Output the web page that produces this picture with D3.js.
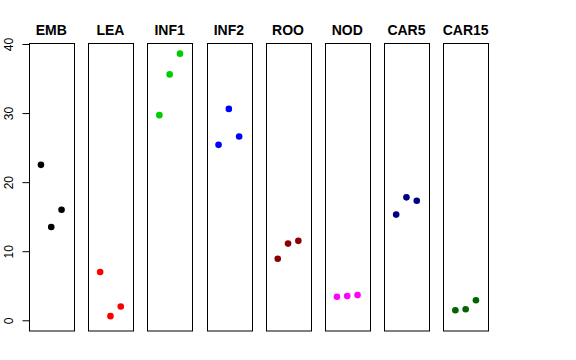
<!DOCTYPE html>
<html><head><meta charset="utf-8">
<script src="https://cdn.jsdelivr.net/npm/d3@7"></script>
<style>body{margin:0;background:#fff}svg{display:block}</style>
</head><body>
<svg id="c" width="576" height="360"></svg>
<script>
const categories = ["EMB","LEA","INF1","INF2","ROO","NOD","CAR5","CAR15"];
const colors = ["#000000","#FF0000","#00CD00","#0000FF","#8B0000","#FF00FF","#000080","#006400"];
const rep1 = [22.5, 7.0, 29.7, 25.4, 8.9, 3.4, 15.3, 1.45];
const rep2 = [13.5, 0.6, 35.6, 30.6, 11.1, 3.5, 17.8, 1.6];
const rep3 = [16.0, 2.0, 38.6, 26.6, 11.5, 3.65, 17.3, 2.9];
const yTicks = [0, 10, 20, 30, 40];

const svg = d3.select("#c");
const panelX = d3.scaleBand().domain(categories)
  .range([29, 29 + 59.2 * 8 - 14.7]).paddingInner(14.7/59.2).paddingOuter(0).align(0);
const y = d3.scaleLinear().domain([-1.55, 40.1]).range([331, 43.3]);

categories.forEach((cat, i) => {
  const x0 = panelX(cat), w = panelX.bandwidth();
  const x = d3.scaleLinear().domain([-0.16, 4.16]).range([x0, x0 + w]);
  const g = svg.append("g");
  g.append("rect").attr("x", Math.round(x0) + 0.5).attr("y", 43.5)
    .attr("width", Math.round(w)).attr("height", 287.5)
    .attr("fill", "none").attr("stroke", "#000").attr("stroke-width", 1);
  const vals = [rep1[i], rep2[i], rep3[i]];
  g.selectAll("circle").data(vals).enter().append("circle")
    .attr("cx", (d, j) => x(j + 1)).attr("cy", d => y(d))
    .attr("r", 3.3).attr("fill", colors[i]);
  g.append("text").attr("x", x0 + w / 2).attr("y", 35)
    .attr("text-anchor", "middle").attr("font-family", "Liberation Sans, Arial, sans-serif")
    .attr("font-weight", "bold").attr("font-size", 14).text(cat);
});

const axis = d3.axisLeft(y).tickValues(yTicks).tickSize(7).tickPadding(5).tickFormat(d3.format("d"));
const ag = svg.append("g").attr("transform", "translate(29.5,0)").call(axis);
ag.select(".domain").attr("d", `M0,${y(0)}V${y(40)}`).attr("stroke", "#000");
ag.selectAll(".tick line").attr("stroke", "#000");
ag.selectAll(".tick text")
  .attr("font-family", "Liberation Sans, Arial, sans-serif").attr("font-size", 12)
  .attr("fill", "#000")
  .attr("transform", "rotate(-90)")
  .attr("dy", null)
  .attr("text-anchor", "middle")
  .attr("x", 0).attr("y", -17);
</script>
</body></html>
